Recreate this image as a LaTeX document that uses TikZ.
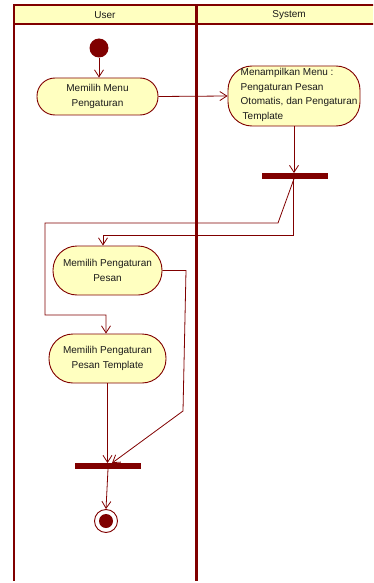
\documentclass[tikz,border=0pt]{standalone}
\usepackage{fontspec}
\setmainfont{Liberation Sans}
\usetikzlibrary{arrows.meta}
\definecolor{umlred}{HTML}{800000}
\definecolor{umlfill}{HTML}{FFFFC0}
\definecolor{umltext}{HTML}{1A1A1A}
\begin{document}
\begin{tikzpicture}[x=1pt,y=-1pt,
  lane/.style={draw=umlred,line width=2pt},
  activity/.style={draw=umlred,fill=umlfill,line width=0.9pt,text=umltext,align=center,
    inner sep=0pt,font=\fontsize{10}{14.5}\selectfont},
  bar/.style={fill=umlred,draw=none,minimum width=66pt,minimum height=5.5pt,inner sep=0pt},
  flow/.style={draw=umlred,line width=0.8pt,-{Straight Barb[length=7pt,width=9pt]}},
  lanetitle/.style={text=umltext,font=\fontsize{10}{11}\selectfont,inner sep=0pt}]
\useasboundingbox (0,0) rectangle (373,583);

% swimlanes
\begin{scope}
  \clip (0,0) rectangle (373,583);
  \fill[umlfill] (14,5) rectangle (390,24);
  \draw[lane] (390,5) -- (14,5) -- (14,581);
  \draw[lane] (14,24) -- (390,24);
  \draw[draw=umlred,line width=3.4pt] (196.7,5) -- (196.7,581);
\end{scope}
\node[lanetitle] (userlane) at (105,15.5) {User};
\node[lanetitle] (systemlane) at (289,15.5) {System};

% nodes
\node[circle,fill=umlred,minimum size=19pt,inner sep=0pt] (start) at (99,48) {};
\node[activity,minimum width=121pt,minimum height=37pt,rounded corners=18pt] (menu) at (97.5,96.5) {Memilih Menu\\Pengaturan};
\node[activity,minimum width=132pt,minimum height=60pt,rounded corners=24pt] (show) at (294,96) {};
\node[anchor=west,align=left,inner sep=0pt,text=umltext,font=\fontsize{10}{14.7}\selectfont] (showtext) at (240.5,95)
  {Menampilkan Menu :\\Pengaturan Pesan\\Otomatis, dan Pengaturan\\\hspace{2pt}Template};
\node[bar] (fork) at (295,176) {};
\node[activity,minimum width=109pt,minimum height=49pt,rounded corners=24pt] (pesan) at (107.5,270.5) {Memilih Pengaturan\\Pesan};
\node[activity,minimum width=117pt,minimum height=49pt,rounded corners=24pt] (tmpl) at (107.5,358.5) {Memilih Pengaturan\\Pesan Template};
\node[bar] (join) at (108,466) {};
\node[circle,draw=umlred,fill=white,line width=0.9pt,minimum size=23pt,inner sep=0pt] (finish) at (106,521) {};
\node[circle,fill=umlred,minimum size=14pt,inner sep=0pt] (finishdot) at (finish.center) {};

% bend points
\coordinate (k1) at (278,223);
\coordinate (k2) at (45,223);
\coordinate (k3) at (45,315);
\coordinate (k4) at (106,315);
\coordinate (k5) at (293,176);
\coordinate (k6) at (103,235);
\coordinate (k7) at (186,270.5);
\coordinate (k8) at (183,411);
\coordinate (k9) at (112,466);

% flows
\draw[flow] (start.south) -- (start.south |- menu.north);
\draw[flow] (menu.east) -- (show.west);
\draw[flow] (show.south) -- (show.south |- fork.north);
\draw[flow] (fork.center) -- (k1) -- (k2) -- (k3) -- (k4) -- (k4 |- tmpl.north);
\draw[flow] (k5) -- (k5 |- k6) -- (k6) -- (k6 |- pesan.north);
\draw[flow] (pesan.east) -- (k7) -- (k8) -- (k9 |- join.north);
\draw[flow] (tmpl.south) -- (tmpl.south |- join.north);
\draw[flow] (join.south) -- (finish.north);
\end{tikzpicture}
\end{document}
